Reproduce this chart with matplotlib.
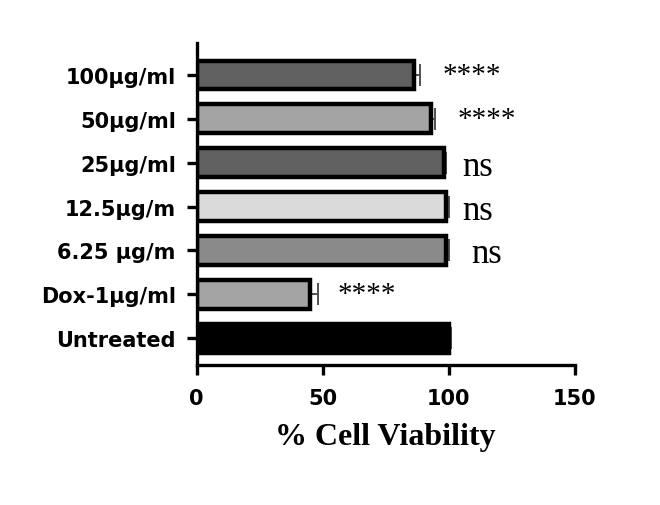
import matplotlib.pyplot as plt

# data (bottom to top)
groups = ["Untreated", "Dox-1µg/ml", "6.25 µg/m", "12.5µg/m", "25µg/ml", "50µg/ml", "100µg/ml"]
viability = [100, 45, 99, 99, 98, 93, 86]
errors = [1, 3, 1, 1, 1, 1.5, 2.5]
signif = ["", "****", "ns", "ns", "ns", "****", "****"]
colors = ["#000000", "#a4a4a4", "#8a8a8a", "#dadada", "#606060", "#a4a4a4", "#606060"]

fig = plt.figure(figsize=(6.6, 5.06), dpi=100)
ax = fig.add_axes([0.298, 0.277, 0.573, 0.636])

ypos = list(range(len(groups)))
ax.barh(ypos, viability, height=0.66, color=colors, edgecolor="black",
        linewidth=3.2, zorder=2)
# one-sided error bars, drawn under the bars so the inner cap is hidden
ax.errorbar(viability, ypos, xerr=[[0] * len(errors), errors], fmt="none",
            ecolor="#505050", elinewidth=1.4, capsize=8, capthick=1.4, zorder=1)

# significance labels
txt_x = [None, 56, 109, 105.5, 105.5, 103.5, 97.5]
for i, s in enumerate(signif):
    if s:
        big = s == "ns"
        ax.text(txt_x[i], i + (-0.08 if big else 0.0), s, family="Liberation Serif",
                fontsize=25 if big else 21, va="center", ha="left")

ax.set_xlim(0, 150)
ax.set_ylim(-0.61, 6.73)
ax.set_xticks([0, 50, 100, 150])
ax.set_yticks(ypos)
ax.set_yticklabels(groups)

for side in ["top", "right"]:
    ax.spines[side].set_visible(False)
for side in ["left", "bottom"]:
    ax.spines[side].set_linewidth(2.4)
ax.tick_params(axis="y", width=2.4, length=7, pad=8, labelsize=15)
ax.tick_params(axis="x", width=2.4, length=7, pad=10, labelsize=15)
for lab in ax.get_xticklabels() + ax.get_yticklabels():
    lab.set_fontweight("bold")
    lab.set_family("DejaVu Sans")

ax.set_xlabel("% Cell Viability", family="Liberation Serif", fontweight="bold",
              fontsize=23, labelpad=10)

fig.savefig("out.png", dpi=100)
